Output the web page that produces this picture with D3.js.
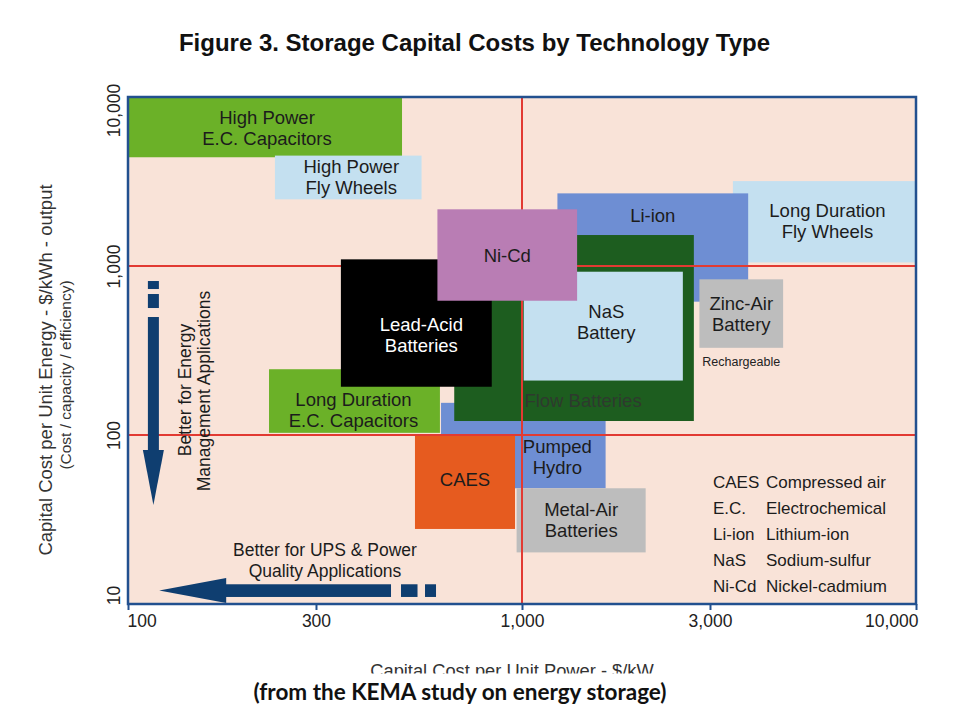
<!DOCTYPE html>
<html>
<head>
<meta charset="utf-8">
<script src="https://cdn.jsdelivr.net/npm/d3@7/dist/d3.min.js"></script>
<style>
    body { margin: 0; background: #fff; }
    svg { display: block; font-family: "Liberation Sans", Arial, sans-serif; }
</style>
</head>
<body>
<div id="chart"></div>
<script>
// Storage technologies, drawn back to front
const techNames = [
    'Long Duration Fly Wheels', 'High Power E.C. Capacitors', 'High Power Fly Wheels',
    'Li-ion', 'Pumped Hydro', 'Flow Batteries', 'CAES', 'Metal-Air Batteries',
    'Zinc-Air Battery', 'NaS Battery', 'Long Duration E.C. Capacitors',
    'Lead-Acid Batteries', 'Ni-Cd'
];
// capital cost per unit power, $/kW (low, high)
const powerLow  = [3430, 100, 236, 1230, 623, 673, 535, 969, 2820, 1010, 228, 347, 610];
const powerHigh = [10000, 496, 556, 3750, 1630, 2730, 960, 2060, 4600, 2560, 619, 838, 1380];
// capital cost per unit energy, $/kWh (low, high)
const energyLow  = [1050, 4400, 2480, 615, 48.4, 121, 27.8, 20.2, 328, 210, 103, 193, 623];
const energyHigh = [3180, 10000, 4500, 2690, 155, 1525, 101, 48.4, 834, 925, 245, 1095, 2165];
const techLabels = [
    ['Long Duration', 'Fly Wheels'], ['High Power', 'E.C. Capacitors'], ['High Power', 'Fly Wheels'],
    ['Li-ion'], ['Pumped', 'Hydro'], ['Flow Batteries'], ['CAES'], ['Metal-Air', 'Batteries'],
    ['Zinc-Air', 'Battery'], ['NaS', 'Battery'], ['Long Duration', 'E.C. Capacitors'],
    ['Lead-Acid', 'Batteries'], ['Ni-Cd']
];

const xTicks = [100, 300, 1000, 3000, 10000];
const yTicks = [10, 100, 1000, 10000];
const refLinesX = [1000];
const refLinesY = [1000, 100];

const abbrevs = ['CAES', 'E.C.', 'Li-ion', 'NaS', 'Ni-Cd'];
const meanings = ['Compressed air', 'Electrochemical', 'Lithium-ion', 'Sodium-sulfur', 'Nickel-cadmium'];

// styling / layout
const techColors = {
    'Long Duration Fly Wheels': '#c4e0f0',
    'High Power E.C. Capacitors': '#6bb128',
    'High Power Fly Wheels': '#c4e0f0',
    'Li-ion': '#6e8ed3',
    'Pumped Hydro': '#6e8ed3',
    'Flow Batteries': '#1d5d1f',
    'CAES': '#e65b1f',
    'Metal-Air Batteries': '#bdbdbd',
    'Zinc-Air Battery': '#bdbdbd',
    'NaS Battery': '#c4e0f0',
    'Long Duration E.C. Capacitors': '#6bb128',
    'Lead-Acid Batteries': '#000000',
    'Ni-Cd': '#b97db4'
};
// these are drawn on top of the red reference lines
const frontTechs = ['NaS Battery', 'Long Duration E.C. Capacitors', 'Lead-Acid Batteries', 'Ni-Cd'];
// label nudges from the box centre, px
const labelNudge = {
    'Long Duration Fly Wheels': [3, -1],
    'High Power E.C. Capacitors': [2, 1],
    'High Power Fly Wheels': [3, -1],
    'Li-ion': [0, -32],
    'Pumped Hydro': [34, 11],
    'Flow Batteries': [9, 72],
    'CAES': [0, -2],
    'NaS Battery': [3, -4],
    'Long Duration E.C. Capacitors': [-1, 9],
    'Lead-Acid Batteries': [5, 12]
};
const yLabelNudge = { 10: -9, 10000: 13 };

const frameColor = '#22508f';
const arrowColor = '#0f3e70';
const redColor = '#e23a32';

const width = 960, height = 720;
const plot = { left: 128, right: 916, top: 97, bottom: 604 };

const x = d3.scaleLog().domain([100, 10000]).range([plot.left, plot.right]);
const y = d3.scaleLog().domain([10, 10000]).range([plot.bottom, plot.top]);

const svg = d3.select('#chart').append('svg')
    .attr('width', width)
    .attr('height', height);

svg.append('rect')
    .attr('width', width).attr('height', height)
    .attr('fill', '#fff');

// title
svg.append('text')
    .attr('x', 474.5).attr('y', 51)
    .attr('text-anchor', 'middle')
    .attr('font-family', '"Liberation Sans", Arial, sans-serif')
    .attr('font-size', 24)
    .attr('font-weight', 'bold')
    .attr('fill', '#111')
    .text('Figure 3. Storage Capital Costs by Technology Type');

// plot background
svg.append('rect')
    .attr('x', plot.left).attr('y', plot.top)
    .attr('width', plot.right - plot.left)
    .attr('height', plot.bottom - plot.top)
    .attr('fill', '#f9e3d8');

const techs = techNames.map((name, i) => ({
    name,
    x0: powerLow[i], x1: powerHigh[i],
    y0: energyLow[i], y1: energyHigh[i],
    label: techLabels[i]
}));

function drawBoxes(data) {
    svg.append('g').selectAll('rect')
        .data(data)
        .enter()
        .append('rect')
        .attr('x', d => x(d.x0))
        .attr('y', d => y(d.y1))
        .attr('width', d => x(d.x1) - x(d.x0))
        .attr('height', d => y(d.y0) - y(d.y1))
        .attr('fill', d => techColors[d.name]);
}

drawBoxes(techs.filter(d => !frontTechs.includes(d.name)));

// red reference lines
svg.append('g').selectAll('line')
    .data(refLinesX)
    .enter()
    .append('line')
    .attr('x1', d => x(d)).attr('x2', d => x(d))
    .attr('y1', plot.top).attr('y2', plot.bottom)
    .attr('stroke', redColor)
    .attr('stroke-width', 2);

svg.append('g').selectAll('line')
    .data(refLinesY)
    .enter()
    .append('line')
    .attr('x1', plot.left).attr('x2', plot.right)
    .attr('y1', d => y(d)).attr('y2', d => y(d))
    .attr('stroke', redColor)
    .attr('stroke-width', 2);

drawBoxes(techs.filter(d => frontTechs.includes(d.name)));

// box labels
const labels = svg.append('g')
    .attr('font-size', 18.5)
    .attr('text-anchor', 'middle');

techs.forEach(d => {
    const nudge = labelNudge[d.name] || [0, 0];
    const cx = (x(d.x0) + x(d.x1)) / 2 + nudge[0];
    const cy = (y(d.y0) + y(d.y1)) / 2 + nudge[1];
    const lineH = 21;
    const first = cy - (d.label.length - 1) * lineH / 2 + 6.6;
    let color = '#1c1c1c';
    if (d.name === 'Lead-Acid Batteries') color = '#ffffff';
    if (d.name === 'Flow Batteries') color = '#2e3a2e';
    const t = labels.append('text').attr('fill', color);
    d.label.forEach((line, k) => {
        t.append('tspan')
            .attr('x', cx)
            .attr('y', first + k * lineH)
            .text(line);
    });
});

// small note under zinc-air
const zinc = techs.find(d => d.name === 'Zinc-Air Battery');
svg.append('text')
    .attr('x', (x(zinc.x0) + x(zinc.x1)) / 2)
    .attr('y', y(zinc.y0) + 18)
    .attr('text-anchor', 'middle')
    .attr('font-size', 12.5)
    .attr('fill', '#222')
    .text('Rechargeable');

// abbreviation key
const key = svg.append('g')
    .attr('font-size', 17)
    .attr('fill', '#1c1c1c');

key.selectAll('text.abbr')
    .data(abbrevs)
    .enter()
    .append('text')
    .attr('class', 'abbr')
    .attr('x', 713)
    .attr('y', (d, i) => 488 + i * 26)
    .text(d => d);

key.selectAll('text.mean')
    .data(meanings)
    .enter()
    .append('text')
    .attr('class', 'mean')
    .attr('x', 766)
    .attr('y', (d, i) => 488 + i * 26)
    .text(d => d);

// "better for energy management" arrow (down)
function drawDownArrow(cx, top, tip) {
    const g = svg.append('g').attr('fill', arrowColor);
    const w = 11, headW = 21, headH = 55;
    g.append('rect').attr('x', cx - w / 2).attr('y', top).attr('width', w).attr('height', 8);
    g.append('rect').attr('x', cx - w / 2).attr('y', top + 13).attr('width', w).attr('height', 14);
    g.append('rect').attr('x', cx - w / 2).attr('y', top + 36).attr('width', w).attr('height', tip - headH - top - 36 + 1);
    g.append('path')
        .attr('d', `M${cx - headW / 2},${tip - headH} L${cx + headW / 2},${tip - headH} L${cx},${tip} Z`);
}

// "better for UPS" arrow (left)
function drawLeftArrow(cy, tail, tip) {
    const g = svg.append('g').attr('fill', arrowColor);
    const h = 12.7, headH = 25, headW = 67;
    g.append('rect').attr('x', tail - 11).attr('y', cy - h / 2).attr('width', 11).attr('height', h);
    g.append('rect').attr('x', tail - 35).attr('y', cy - h / 2).attr('width', 16.5).attr('height', h);
    g.append('rect').attr('x', tip + headW - 1).attr('y', cy - h / 2).attr('width', tail - 45 - tip - headW + 1).attr('height', h);
    g.append('path')
        .attr('d', `M${tip + headW},${cy - headH / 2} L${tip + headW},${cy + headH / 2} L${tip},${cy} Z`);
}

drawDownArrow(x(116), y(815), y(38.5));
drawLeftArrow(y(12), x(605), x(120));

svg.append('text')
    .attr('transform', `translate(190.5,390) rotate(-90)`)
    .attr('text-anchor', 'middle')
    .attr('font-size', 17.5)
    .attr('fill', '#1c1c1c')
    .text('Better for Energy');

svg.append('text')
    .attr('transform', `translate(210,391) rotate(-90)`)
    .attr('text-anchor', 'middle')
    .attr('font-size', 17.5)
    .attr('fill', '#1c1c1c')
    .text('Management Applications');

svg.append('text')
    .attr('x', 325).attr('y', 556)
    .attr('text-anchor', 'middle')
    .attr('font-size', 17.5)
    .attr('fill', '#1c1c1c')
    .text('Better for UPS & Power');

svg.append('text')
    .attr('x', 325).attr('y', 577)
    .attr('text-anchor', 'middle')
    .attr('font-size', 17.5)
    .attr('fill', '#1c1c1c')
    .text('Quality Applications');

// frame
svg.append('rect')
    .attr('x', plot.left).attr('y', plot.top)
    .attr('width', plot.right - plot.left)
    .attr('height', plot.bottom - plot.top)
    .attr('fill', 'none')
    .attr('stroke', frameColor)
    .attr('stroke-width', 2.5);

// x axis
const xAxis = svg.append('g')
    .attr('transform', `translate(0,${plot.bottom})`)
    .call(d3.axisBottom(x)
        .tickValues(xTicks)
        .tickFormat(d3.format(','))
        .tickSize(6)
        .tickPadding(5));

xAxis.select('.domain').remove();
xAxis.selectAll('line').attr('stroke', frameColor).attr('stroke-width', 2);
xAxis.selectAll('text')
    .attr('font-size', 17.5)
    .attr('font-family', '"Liberation Sans", Arial, sans-serif')
    .attr('fill', '#222')
    .attr('text-anchor', (d, i) => i === 0 ? 'start' : (i === xTicks.length - 1 ? 'end' : 'middle'))
    .attr('dx', (d, i) => i === 0 ? -1 : (i === xTicks.length - 1 ? 2 : 0));

// y axis, labels turned sideways
const yAxis = svg.append('g')
    .attr('transform', `translate(${plot.left},0)`)
    .call(d3.axisLeft(y)
        .tickValues(yTicks)
        .tickFormat(d3.format(','))
        .tickSize(0));

yAxis.select('.domain').remove();
yAxis.selectAll('text')
    .attr('x', null)
    .attr('dy', null)
    .attr('text-anchor', 'middle')
    .attr('transform', d => `translate(-8,${yLabelNudge[d] || 0}) rotate(-90)`)
    .attr('font-size', 17.5)
    .attr('font-family', '"Liberation Sans", Arial, sans-serif')
    .attr('fill', '#222');

// axis titles
svg.append('text')
    .attr('transform', 'translate(52,370) rotate(-90)')
    .attr('text-anchor', 'middle')
    .attr('font-size', 18.5)
    .attr('fill', '#333')
    .text('Capital Cost per Unit Energy - $/kWh - output');

svg.append('text')
    .attr('transform', 'translate(71,375) rotate(-90)')
    .attr('text-anchor', 'middle')
    .attr('font-size', 15.5)
    .attr('fill', '#333')
    .text('(Cost / capacity / efficiency)');

svg.append('text')
    .attr('x', 512).attr('y', 677)
    .attr('text-anchor', 'middle')
    .attr('font-size', 18.3)
    .attr('fill', '#333')
    .text('Capital Cost per Unit Power - $/kW');

// caption strip covers the lower part of the axis title, as in the source
svg.append('rect')
    .attr('x', 0).attr('y', 673.5)
    .attr('width', width).attr('height', height - 673.5)
    .attr('fill', '#fff');

svg.append('text')
    .attr('x', 460).attr('y', 699.5)
    .attr('text-anchor', 'middle')
    .attr('font-family', 'Lato, "Open Sans", sans-serif')
    .attr('font-size', 22.5)
    .attr('font-weight', 'bold')
    .attr('fill', '#111')
    .text('(from the KEMA study on energy storage)');
</script>
</body>
</html>
